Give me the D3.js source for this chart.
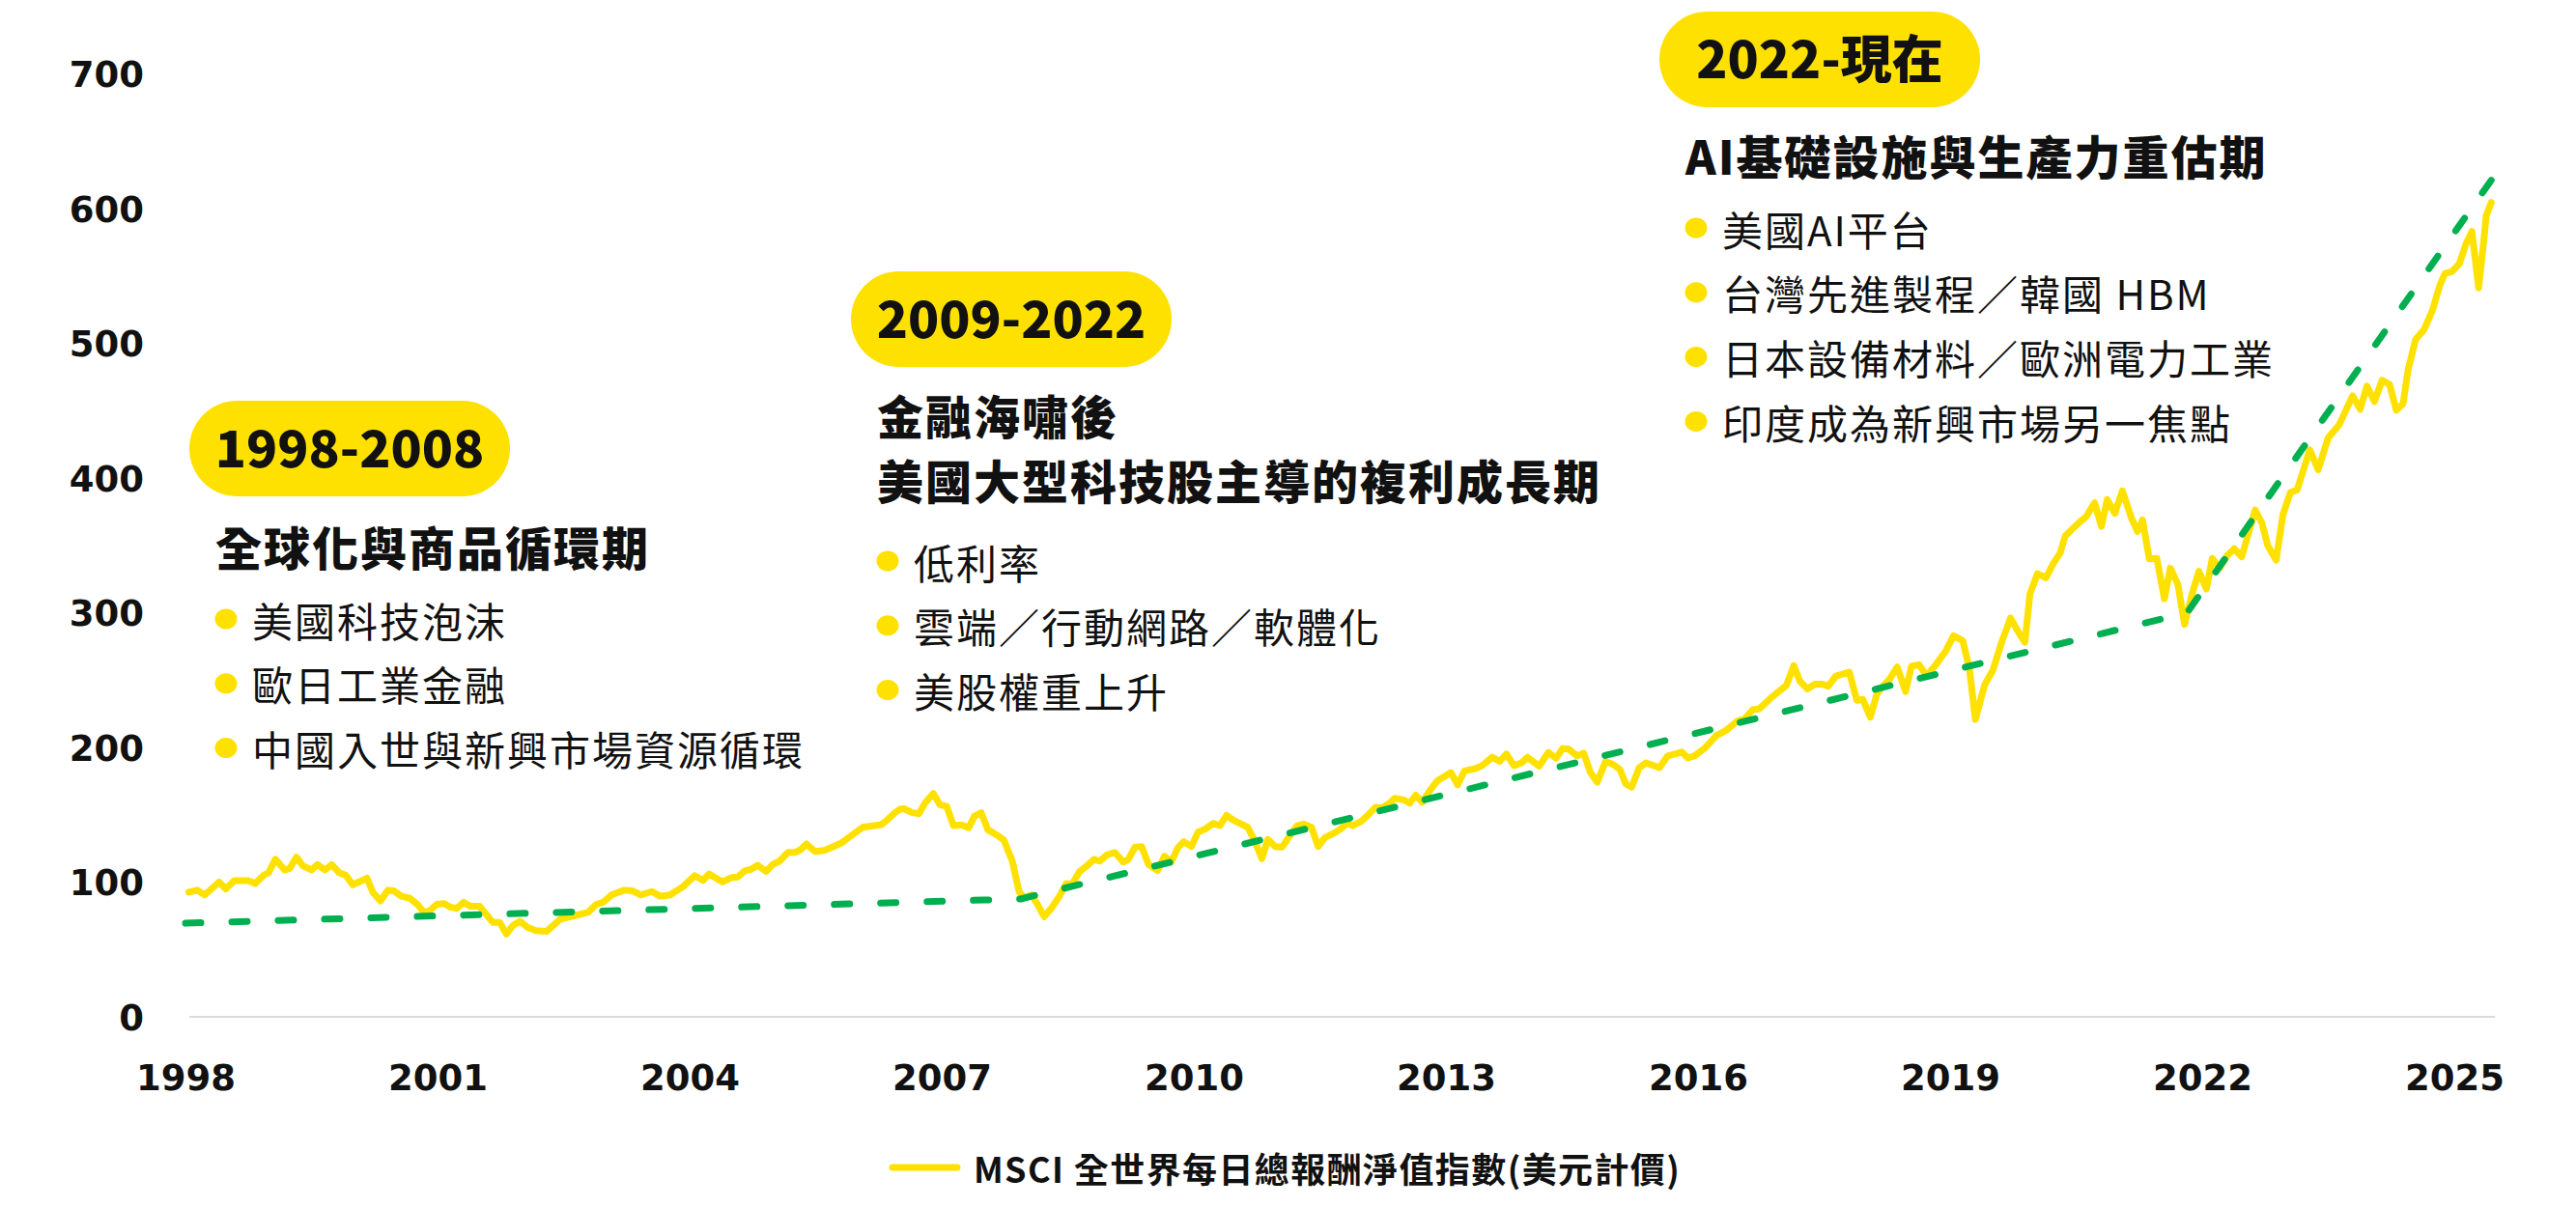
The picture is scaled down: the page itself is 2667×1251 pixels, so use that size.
<!DOCTYPE html>
<html><head><meta charset="utf-8">
<script src="https://cdn.jsdelivr.net/npm/d3@7"></script>
<style>html,body{margin:0;padding:0;background:#fff;} svg{display:block;}</style>
</head><body>
<svg id="chart" width="2667" height="1251"></svg>
<script>
// ---------------- data ----------------
const yearTicks = [1998, 2001, 2004, 2007, 2010, 2013, 2016, 2019, 2022, 2025];
const valueTicks = [0, 100, 200, 300, 400, 500, 600, 700];

const msciDates = [
1998.04,1998.14,1998.23,1998.40,1998.48,1998.58,1998.75,1998.83,1998.93,1998.99,
1999.07,1999.18,1999.24,1999.32,1999.40,1999.50,1999.57,1999.66,1999.74,1999.83,1999.91,1999.99,
2000.08,2000.16,2000.23,2000.32,2000.41,2000.48,2000.57,2000.67,2000.76,2000.84,2000.90,2000.99,
2001.08,2001.15,2001.23,2001.31,2001.39,2001.50,2001.58,2001.66,2001.74,2001.82,2001.90,2001.98,
2002.07,2002.17,2002.30,2002.38,2002.46,2002.56,2002.69,2002.79,2002.89,2002.97,
2003.07,2003.22,2003.32,2003.42,2003.55,2003.65,2003.77,2003.84,2003.92,
2004.06,2004.16,2004.23,2004.39,2004.49,2004.57,2004.66,2004.72,2004.81,2004.91,2004.99,
2005.07,2005.17,2005.25,2005.32,2005.39,2005.49,2005.60,2005.71,2005.80,2005.89,
2006.06,2006.20,2006.28,2006.34,2006.45,2006.51,2006.55,2006.65,2006.73,2006.80,2006.90,2006.98,
2007.06,2007.14,2007.24,2007.32,2007.39,2007.47,2007.55,2007.66,2007.74,2007.84,2007.92,2007.98,
2008.07,2008.15,2008.22,2008.31,2008.40,2008.48,2008.55,2008.64,2008.72,2008.81,2008.88,2008.97,
2009.06,2009.16,2009.22,2009.30,2009.38,2009.46,2009.57,2009.65,2009.73,2009.81,2009.88,2009.97,
2010.05,2010.14,2010.23,2010.31,2010.39,2010.47,2010.64,2010.72,2010.81,2010.88,2010.97,
2011.05,2011.13,2011.23,2011.31,2011.40,2011.48,2011.56,2011.66,2011.75,2011.82,2011.89,2011.99,
2012.07,2012.16,2012.24,2012.33,2012.39,2012.50,2012.57,2012.64,2012.72,2012.81,2012.90,
2013.06,2013.14,2013.22,2013.35,2013.43,2013.55,2013.64,2013.72,2013.81,2013.90,2013.97,
2014.11,2014.22,2014.31,2014.39,2014.46,2014.56,2014.64,2014.72,2014.80,2014.90,2014.99,
2015.07,2015.14,2015.21,2015.30,2015.38,2015.54,2015.64,2015.81,2015.88,2015.96,
2016.08,2016.22,2016.33,2016.47,2016.55,2016.65,2016.73,2016.88,
2017.05,2017.14,2017.21,2017.30,2017.39,2017.48,2017.55,2017.64,2017.80,2017.89,2017.96,
2018.05,2018.13,2018.22,2018.28,2018.37,2018.47,2018.54,2018.63,2018.72,2018.83,2018.95,
2019.04,2019.15,2019.23,2019.30,2019.41,2019.51,2019.62,2019.72,2019.80,2019.89,2019.95,
2020.04,2020.14,2020.23,2020.31,2020.37,2020.54,2020.62,2020.72,2020.80,2020.87,2020.96,
2021.05,2021.16,2021.23,2021.29,2021.37,2021.46,2021.55,2021.62,2021.71,2021.79,2021.88,2021.96,
2022.05,2022.12,2022.21,2022.30,2022.38,2022.47,2022.63,2022.71,2022.78,2022.88,2022.96,
2023.05,2023.13,2023.28,2023.38,2023.50,2023.63,2023.79,2023.88,2023.96,
2024.05,2024.14,2024.23,2024.31,2024.39,2024.45,2024.54,2024.64,2024.74,2024.83,2024.89,2024.97,
2025.06,2025.14,2025.21,2025.29,2025.35,2025.38,2025.44
];
const msciValues = [
92.5,94,90.5,100,95,101,101,99,105,107,
117,109,110,118.5,112,109,113,109,113,107,105,98,
100.5,103,92.5,86,94,93.5,89.5,88,83.5,77.5,78.5,83.5,
84,81.5,80.5,85,82,82,76,70,70,61.5,68,71,
66.5,64,63.5,68,72.5,74,76,77.5,83.5,85,
90.5,94,93.5,90.5,93,89.5,90.5,93.4,96.5,
104.8,101.3,106,100.1,103.2,103.7,108.5,109.2,112.5,108,113.2,
115.6,122,122,124,128.3,122.8,123.5,126.4,128.8,133,
140.7,141.9,142.6,145.5,151.9,154.3,154.5,151.5,150.8,158.6,165.8,157.4,
156.2,141.9,142.4,140.2,149,151.5,138.8,134.8,131.2,115.6,93,88.2,
90.6,82.2,74.3,81,89.4,98.9,98.4,107.8,111.6,116.9,115.6,120.4,
122,114.9,116.8,126,126.4,113.2,108.5,119.2,114.9,125.5,130,126.4,
137.1,139.5,143.6,141.9,149.6,146,140.7,131.2,117.4,131.7,126.4,
126,133.1,141.9,143.1,140.7,126.4,133.1,136,139.5,143.6,141.9,145,
149.6,155.5,155,158.6,162.2,161,158.6,164.5,159.3,168.1,175.3,
181.3,172.2,182.5,184.2,186.5,192.7,189.6,195.1,186.5,188.5,192.7,
186.1,196.3,192,199.2,198.7,193.7,195.6,181.3,174.1,189.6,187.3,
183.7,172.9,170.5,184.9,188.5,184.9,193.7,196.5,192.1,193.8,
199.3,208.8,212.4,219.6,220.8,227.9,228.6,237.5,
245.8,260.7,249.4,243.4,247,247,245.3,253,255.8,235,235.7,
222.4,239.8,247,250.6,259.7,241.5,260.2,261.4,253,261.4,271.7,
282.9,279.3,258.3,220.8,246.3,257.3,279.3,296,286.9,278.1,313.9,
329,325.9,336.6,344.3,357,367.2,371.3,381.6,364.1,384,373.7,
390.4,370,360.3,368.9,340,340.3,310.4,333.1,321.2,291.3,314,330.7,
317.6,340.3,333.1,342.7,347.5,341.5,376.2,366.6,349.9,339.1,372.6,
389.3,391.2,420.9,406.1,430,439.5,461,451,468.2,
456.8,472.5,469.4,450.3,455.1,480.2,502.9,510.1,524.4,543.5,551.9,553.1,
559,573.9,583,541.2,575.8,594.9,604.5
];

const trendDates = [1998.0, 2007.94, 2021.82, 2025.45];
const trendValues = [69.5, 87.5, 300, 622];

const eraLabels = ["1998-2008", "2009-2022", "2022-現在"];
const eraTitles = [
  ["全球化與商品循環期"],
  ["金融海嘯後", "美國大型科技股主導的複利成長期"],
  ["AI基礎設施與生產力重估期"]
];
const eraBullets = [
  ["美國科技泡沫", "歐日工業金融", "中國入世與新興市場資源循環"],
  ["低利率", "雲端／行動網路／軟體化", "美股權重上升"],
  ["美國AI平台", "台灣先進製程／韓國 HBM", "日本設備材料／歐洲電力工業", "印度成為新興市場另一焦點"]
];
const legendLabel = "MSCI 全世界每日總報酬淨值指數(美元計價)";

// ---------------- layout / style ----------------
const YELLOW = "#FFE100", GREEN = "#00AF50", INK = "#111111";
const CJK = "'Noto Sans CJK TC','Noto Sans CJK SC','Noto Sans CJK JP',sans-serif";
const NUM = "'DejaVu Sans',sans-serif";
const eraLayout = [
  {left: 196, top: 415, titleY: [565], bulletY: 641},
  {left: 881, top: 281, titleY: [429, 496], bulletY: 581},
  {left: 1718, top: 12, titleY: [160], bulletY: 236}
];

const svg = d3.select("#chart");
svg.append("rect").attr("width", 2667).attr("height", 1251).attr("fill", "#fff");

const x = d3.scaleLinear().domain([1998, 2025]).range([192, 2541]);
const y = d3.scaleLinear().domain([0, 700]).range([1053, 76.5]);

// baseline
const lastDate = d3.max(msciDates);
svg.append("line")
  .attr("x1", x(1998) + 4).attr("x2", x(lastDate) + 4)
  .attr("y1", y(0)).attr("y2", y(0))
  .attr("stroke", "#cfcfcf").attr("stroke-width", 1.5);

// y axis
const gy = svg.append("g").attr("transform", "translate(149,0)")
  .call(d3.axisLeft(y).tickValues(valueTicks).tickSize(0).tickPadding(0).tickFormat(d3.format("d")));
gy.select(".domain").remove();
gy.selectAll("text").attr("x", 0).attr("dy", "0.36em")
  .style("font-family", NUM).style("font-weight", "700").style("font-size", "37px").attr("fill", INK);

// x axis
const gx = svg.append("g").attr("transform", "translate(0,1116)")
  .call(d3.axisBottom(x).tickValues(yearTicks).tickSize(0).tickPadding(0).tickFormat(d3.format("d")));
gx.select(".domain").remove();
gx.selectAll("text").attr("y", 0).attr("dy", "0.36em")
  .style("font-family", NUM).style("font-weight", "700").style("font-size", "37px").attr("fill", INK);

// series
const msci = msciDates.map((d, i) => ({date: d, value: msciValues[i]}));
const trend = trendDates.map((d, i) => ({date: d, value: trendValues[i]}));
const line = d3.line().x(d => x(d.date)).y(d => y(d.value));

svg.append("path").datum(msci).attr("d", line)
  .attr("fill", "none").attr("stroke", YELLOW).attr("stroke-width", 7)
  .attr("stroke-linejoin", "round").attr("stroke-linecap", "round");

svg.append("path").datum(trend).attr("d", line)
  .attr("fill", "none").attr("stroke", GREEN).attr("stroke-width", 7)
  .attr("stroke-dasharray", "16 32").attr("stroke-linecap", "round");

// era annotations
const PILL_W = 332, PILL_H = 99;
eraLabels.forEach((label, i) => {
  const lay = eraLayout[i];
  const L = lay.left, T = lay.top;
  const g = svg.append("g");
  g.append("rect").attr("x", L).attr("y", T).attr("width", PILL_W).attr("height", PILL_H)
    .attr("rx", PILL_H / 2).attr("ry", PILL_H / 2).attr("fill", YELLOW);
  g.append("text").attr("x", L + PILL_W / 2).attr("y", T + PILL_H / 2 + 19)
    .attr("text-anchor", "middle")
    .style("font-family", CJK).style("font-weight", "900").style("font-size", "53px")
    .attr("fill", INK).text(label);
  lay.titleY.forEach((ty, j) => {
    g.append("text").attr("x", L + 27).attr("y", ty).attr("dominant-baseline", "central")
      .style("font-family", CJK).style("font-weight", "900").style("font-size", "48px")
      .style("letter-spacing", "2px").attr("fill", INK).text(eraTitles[i][j]);
  });
  eraBullets[i].forEach((b, k) => {
    const by = lay.bulletY + k * 66.8;
    g.append("ellipse").attr("cx", L + 38).attr("cy", by).attr("rx", 11.5).attr("ry", 10.5).attr("fill", YELLOW);
    g.append("text").attr("x", L + 65).attr("y", by).attr("dominant-baseline", "central")
      .style("font-family", CJK).style("font-weight", "400").style("font-size", "42px")
      .style("letter-spacing", "2px").attr("fill", INK).text(b);
  });
});

// legend
const lg = svg.append("g").attr("transform", "translate(924,1209)");
lg.append("line").attr("x1", 0).attr("x2", 67).attr("y1", 0).attr("y2", 0)
  .attr("stroke", YELLOW).attr("stroke-width", 7).attr("stroke-linecap", "round");
lg.append("text").attr("x", 84).attr("y", 0).attr("dominant-baseline", "central")
  .style("font-family", CJK).style("font-weight", "700").style("font-size", "36px")
  .style("letter-spacing", "1.4px")
  .attr("fill", INK).text(legendLabel);
</script>
</body></html>
